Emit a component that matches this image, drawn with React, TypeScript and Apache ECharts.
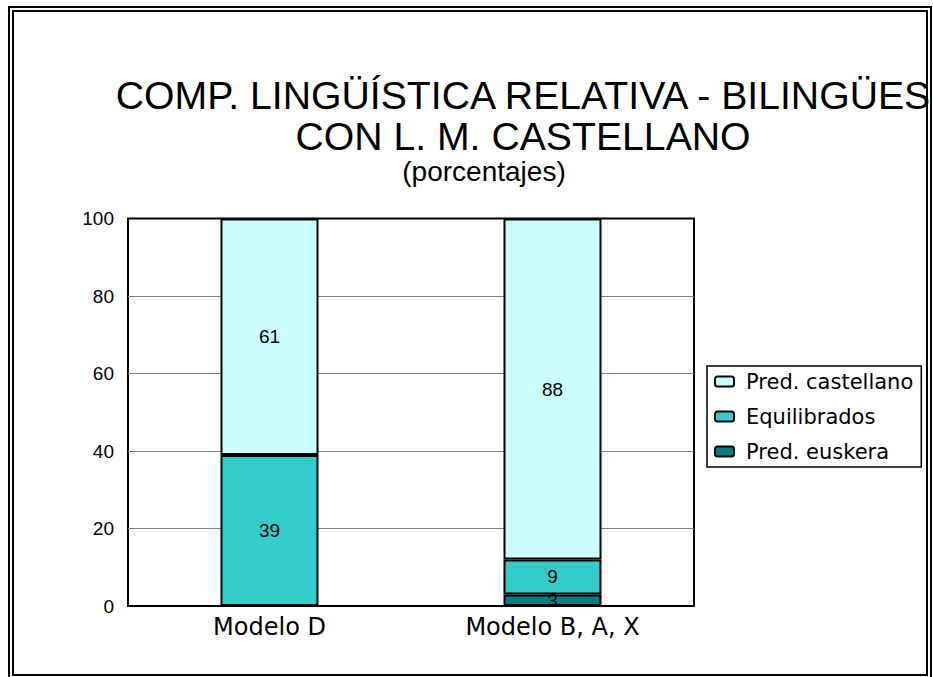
import React, { useEffect, useRef } from "react";
import * as echarts from "echarts";

const categories = ["Modelo D", "Modelo B, A, X"];
const predEuskera = [0, 3];
const equilibrados = [39, 9];
const predCastellano = [61, 88];
const yMin = 0;
const yMax = 100;
const yInterval = 20;

const titleLine1 = "COMP. LINGÜÍSTICA RELATIVA - BILINGÜES";
const titleLine2 = "CON L. M. CASTELLANO";
const subTitle = "(porcentajes)";

const FONT = "'Liberation Sans', Arial, sans-serif";
const WIDE = "'DejaVu Sans', 'Liberation Sans', sans-serif";

export default function App() {
  const ref = useRef<HTMLDivElement>(null);
  useEffect(() => {
    if (!ref.current) return;
    const chart = echarts.init(ref.current, null, { renderer: "svg" });
    const labelFmt = (p: any) => (p.value ? String(p.value) : "");
    const seriesBase = {
      type: "bar" as const,
      stack: "total",
      barWidth: 98,
      label: {
        show: true,
        position: "inside" as const,
        color: "#000",
        fontFamily: FONT,
        fontSize: 19,
        formatter: labelFmt,
      },
    };
    chart.setOption({
      animation: false,
      backgroundColor: "#fff",
      textStyle: { fontFamily: FONT, color: "#000" },
      graphic: [
        { type: "rect", shape: { x: 9, y: 7, width: 922, height: 672 }, style: { fill: "none", stroke: "#000", lineWidth: 2 } },
        { type: "rect", shape: { x: 13, y: 11, width: 914, height: 664 }, style: { fill: "none", stroke: "#000", lineWidth: 2 } },
        { type: "text", x: 523, y: 95, style: { text: titleLine1, fontFamily: FONT, fontSize: 39.2, fill: "#000", align: "center", verticalAlign: "middle" } },
        { type: "text", x: 523, y: 136, style: { text: titleLine2, fontFamily: FONT, fontSize: 39.2, fill: "#000", align: "center", verticalAlign: "middle" } },
        { type: "text", x: 484, y: 171, style: { text: subTitle, fontFamily: FONT, fontSize: 28, fill: "#000", align: "center", verticalAlign: "middle" } },
      ],
      grid: {
        left: 128,
        top: 218.5,
        width: 566,
        height: 387.5,
        show: true,
        borderColor: "#000",
        borderWidth: 2,
        backgroundColor: "transparent",
      },
      legend: {
        orient: "vertical",
        left: 707,
        top: 366,
        padding: [5, 8, 5, 7],
        itemWidth: 19,
        itemHeight: 10,
        itemGap: 14,
        borderColor: "#000",
        borderWidth: 1.5,
        textStyle: { fontFamily: WIDE, fontSize: 21, color: "#000", padding: [0, 0, 0, 7] },
        data: ["Pred. castellano", "Equilibrados", "Pred. euskera"],
      },
      xAxis: {
        type: "category",
        data: categories,
        axisTick: { show: false },
        axisLine: { show: true, lineStyle: { color: "#000", width: 2 } },
        axisLabel: { color: "#000", fontFamily: WIDE, fontSize: 24, margin: 9 },
      },
      yAxis: {
        type: "value",
        min: yMin,
        max: yMax,
        interval: yInterval,
        axisLine: { show: false },
        axisTick: { show: false },
        splitLine: { lineStyle: { color: ["#808080", "#808080", "#808080", "#808080", "#808080", "#000"], width: 1 } },
        axisLabel: { color: "#000", fontFamily: FONT, fontSize: 19, margin: 14 },
      },
      series: [
        { ...seriesBase, name: "Pred. euskera", data: predEuskera, itemStyle: { color: "#008080", borderColor: "#000", borderWidth: 2 } },
        { ...seriesBase, name: "Equilibrados", data: equilibrados, itemStyle: { color: "#33CCCC", borderColor: "#000", borderWidth: 2 } },
        { ...seriesBase, name: "Pred. castellano", data: predCastellano, itemStyle: { color: "#CCFFFF", borderColor: "#000", borderWidth: 2 } },
      ],
    });
    return () => chart.dispose();
  }, []);
  return (
    <div
      ref={ref}
      style={{ position: "fixed", left: 0, top: 0, width: 933, height: 677, background: "#fff" }}
    />
  );
}
